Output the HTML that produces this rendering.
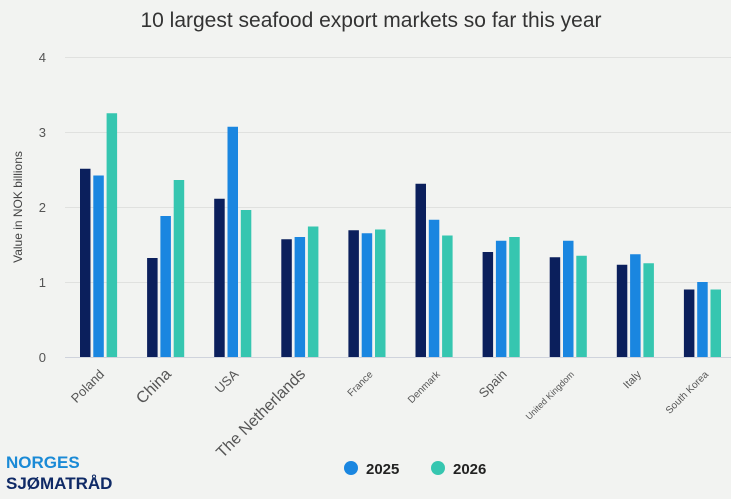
<!DOCTYPE html>
<html><head><style>
body{margin:0;background:#f2f3f1;}
svg{display:block;font-family:"Liberation Sans",sans-serif;}
</style></head><body>
<svg width="731" height="499" viewBox="0 0 731 499">
<rect width="731" height="499" fill="#f2f3f1"/>
<text x="371" y="27" text-anchor="middle" font-size="21" fill="#333">10 largest seafood export markets so far this year</text>
<g stroke="#e0e1df" stroke-width="1">
<line x1="65" x2="731" y1="57.5" y2="57.5"/>
<line x1="65" x2="731" y1="132.5" y2="132.5"/>
<line x1="65" x2="731" y1="207.5" y2="207.5"/>
<line x1="65" x2="731" y1="282.5" y2="282.5"/>
</g>
<line x1="65" x2="731" y1="357.5" y2="357.5" stroke="#cfd3dc"/>
<g font-size="13" fill="#555" text-anchor="end">
<text x="46" y="62">4</text><text x="46" y="137">3</text><text x="46" y="212">2</text><text x="46" y="287">1</text><text x="46" y="362">0</text>
</g>
<text transform="translate(22,207) rotate(-90)" text-anchor="middle" font-size="12" fill="#444">Value in NOK billions</text>
<g id="bars"></g>
<g fill="#555" id="labels"></g>
<circle cx="351" cy="468" r="7" fill="#1a86e0"/>
<text x="366" y="474" font-size="15" font-weight="bold" fill="#222">2025</text>
<circle cx="438" cy="468" r="7" fill="#36c6b0"/>
<text x="453" y="474" font-size="15" font-weight="bold" fill="#222">2026</text>
<text x="6" y="468" font-size="17" font-weight="bold" fill="#1a8ad6">NORGES</text>
<text x="6" y="489" font-size="17" font-weight="bold" fill="#0f2a66">SJØMATRÅD</text>
</svg>
<script>
const d=[["Poland",2.51,2.42,3.25,13],["China",1.32,1.88,2.36,16],["USA",2.11,3.07,1.96,13],["The Netherlands",1.57,1.60,1.74,16],["France",1.69,1.65,1.70,10],["Denmark",2.31,1.83,1.62,10],["Spain",1.40,1.55,1.60,13],["United Kingdom",1.33,1.55,1.35,9],["Italy",1.23,1.37,1.25,11],["South Korea",0.90,1.00,0.90,10]];
const c=["#0b1f5c","#1a86e0","#36c6b0"];
let b="",l="";
d.forEach((r,i)=>{const x0=80+67.1*i;
for(let k=0;k<3;k++){const h=r[k+1]*75;b+=`<rect x="${x0+13.3*k}" y="${357-h}" width="10.5" height="${h}" fill="${c[k]}"/>`;}
const cx=x0+25;l+=`<text transform="translate(${cx},375) rotate(-45)" text-anchor="end" font-size="${r[4]}">${r[0]}</text>`;});
document.getElementById("bars").innerHTML=b;document.getElementById("labels").innerHTML=l;
</script>
</body></html>
